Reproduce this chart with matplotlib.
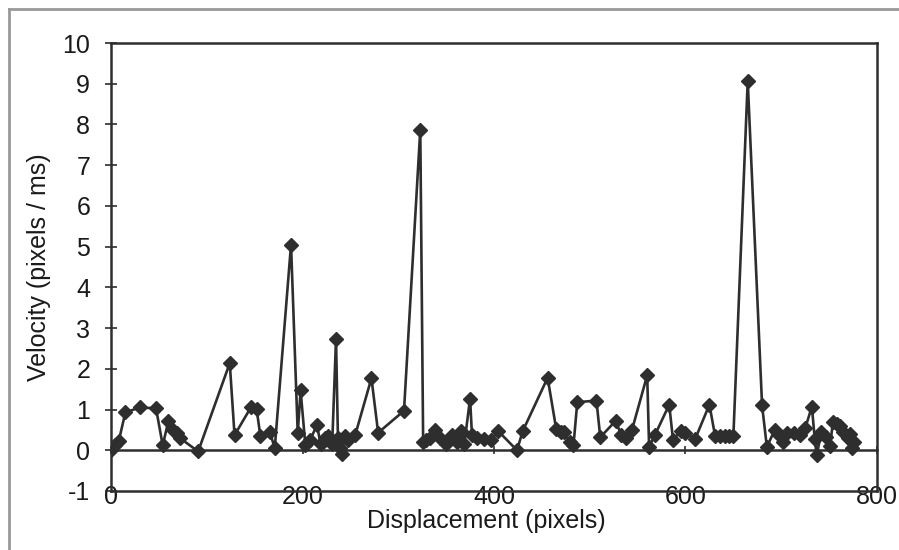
import matplotlib.pyplot as plt
from matplotlib.lines import Line2D

# 데이터
displacement = [0, 4, 8, 15, 30, 47, 54, 60, 65, 69, 72, 91, 124, 129, 146, 152, 156, 166, 171,
                188, 195, 198, 203, 208, 215, 219, 223, 227, 231, 235, 237, 239, 241, 244, 248,
                255, 272, 279, 306, 323, 326, 329, 333, 338, 344, 350, 356, 361, 366, 369, 375,
                377, 382, 390, 397, 404, 424, 430, 456, 465, 470, 473, 479, 483, 487, 507, 511,
                527, 533, 538, 544, 560, 562, 568, 583, 587, 595, 600, 610, 625, 631, 636, 641,
                645, 650, 665, 680, 685, 693, 698, 702, 706, 713, 720, 725, 732, 735, 737, 742,
                747, 751, 754, 758, 761, 765, 770, 772, 774, 776]
velocity = [0, 0.12, 0.22, 0.93, 1.05, 1.03, 0.12, 0.73, 0.5, 0.42, 0.3, -0.03, 2.14, 0.37, 1.05,
            1.02, 0.35, 0.44, 0.05, 5.05, 0.42, 1.47, 0.12, 0.25, 0.62, 0.15, 0.3, 0.35, 0.15,
            2.74, 0.3, 0.05, -0.1, 0.35, 0.25, 0.37, 1.77, 0.43, 0.97, 7.87, 0.2, 0.25, 0.3, 0.5,
            0.3, 0.15, 0.37, 0.2, 0.47, 0.15, 1.27, 0.37, 0.3, 0.28, 0.25, 0.48, 0.0, 0.47, 1.78,
            0.52, 0.45, 0.45, 0.2, 0.12, 1.18, 1.22, 0.32, 0.72, 0.37, 0.3, 0.49, 1.84, 0.08,
            0.37, 1.12, 0.25, 0.48, 0.42, 0.27, 1.12, 0.34, 0.34, 0.34, 0.34, 0.34, 9.07, 1.1,
            0.08, 0.49, 0.37, 0.2, 0.42, 0.42, 0.37, 0.54, 1.07, 0.28, -0.12, 0.45, 0.32, 0.1,
            0.7, 0.65, 0.6, 0.45, 0.3, 0.4, 0.05, 0.2]

x_ticks = [0, 200, 400, 600, 800]
y_ticks = list(range(-1, 11))

plt.rcParams['font.family'] = ['Liberation Sans', 'DejaVu Sans']
plt.rcParams['axes.unicode_minus'] = False  # "-1" 하이픈 그대로
dark = '#2e2e2e'
text_c = '#1a1a1a'

fig = plt.figure(figsize=(8.99, 5.5), dpi=100)
ax = fig.add_axes([0.1235, 0.1073, 0.852, 0.8145])

# 데이터 선 + 다이아몬드 마커
ax.plot(displacement, velocity, color=dark, linewidth=1.9,
        marker='D', markersize=7.5, markerfacecolor=dark, markeredgecolor=dark)

ax.set_xlim(0, 800)
ax.set_ylim(-1, 10)

# x축은 y=0 위치에서 교차
ax.spines['bottom'].set_position(('data', 0))
for s in ax.spines.values():
    s.set_color(dark)
    s.set_linewidth(1.8)

# 아래쪽 테두리 (y=-1)
ax.axhline(-1, color=dark, linewidth=1.8, clip_on=False)

ax.set_xticks(x_ticks)
ax.set_yticks(y_ticks)
ax.tick_params(axis='y', direction='inout', length=8, width=1.2, colors=dark,
               labelsize=18, pad=11, labelcolor=text_c)
ax.tick_params(axis='x', direction='inout', length=6, width=1.2, colors=dark,
               labelsize=18, pad=22, labelcolor=text_c)

ax.set_xlabel("Displacement (pixels)", fontsize=18, color=text_c)
ax.set_ylabel("Velocity (pixels / ms)", fontsize=18, color=text_c, labelpad=8)
ax.xaxis.set_label_coords(0.49, -0.04, transform=ax.transAxes)

# 바깥 차트 테두리 (회색)
fig.add_artist(Line2D([9 / 899, 1], [1 - 9 / 550, 1 - 9 / 550], color='#999999', linewidth=2))
fig.add_artist(Line2D([9 / 899, 9 / 899], [0, 1 - 9 / 550], color='#999999', linewidth=2))

plt.savefig("out.png", dpi=100)
